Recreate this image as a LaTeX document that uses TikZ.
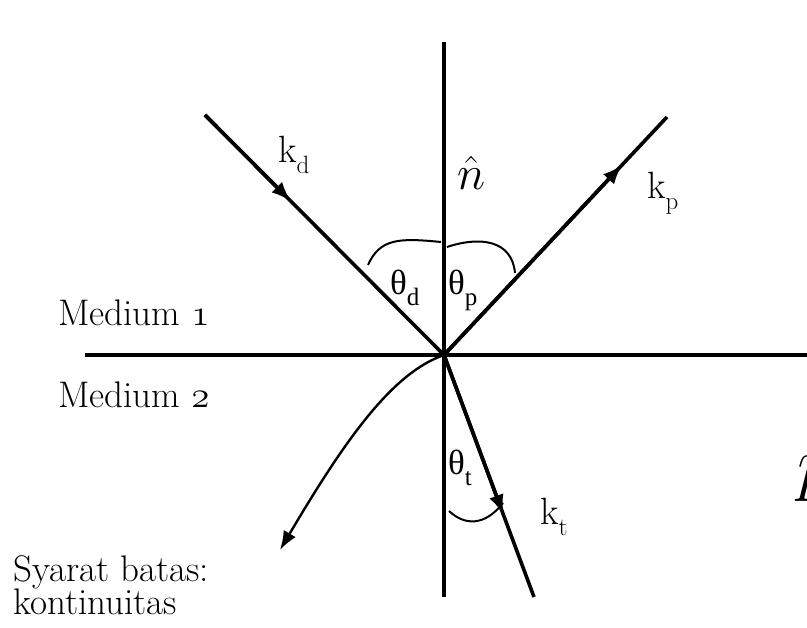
\RequirePackage{fix-cm}
\documentclass[tikz,border=0pt]{standalone}
\usepackage{fontspec}
\newfontfamily\grk{Liberation Serif}
\usetikzlibrary{arrows.meta,calc}
\newcommand\osnum[1]{{\usefont{OML}{cmm}{m}{it}#1}}
\newcommand\subl[2]{#1\raisebox{-11pt}{\fontsize{25}{25}\selectfont #2}}
\begin{document}
\begin{tikzpicture}[x=1pt,y=-1pt,
  txt/.style={inner sep=0pt,anchor=base west,font=\fontsize{37}{37}\selectfont},
  klbl/.style={inner sep=0pt,anchor=base west,font=\fontsize{38}{38}\selectfont},
  tlbl/.style={inner sep=0pt,anchor=base west,font=\fontsize{35}{35}\selectfont\grk},
  ray/.style={line width=3.6pt},
  tipray/.style={line width=3.6pt,-{Latex[length=20pt,width=15pt]}},
  arcline/.style={line width=2pt}
]
\useasboundingbox (0,0) rectangle (807,628);
% points
\coordinate (O) at (444,355);
\coordinate (Din) at (205,115);
\coordinate (Pout) at (667,117);
\coordinate (Tout) at (534,597);
\coordinate (Ntop) at (444,42);
\coordinate (Nbot) at (444,597);
\coordinate (Ileft) at (85,355);
\coordinate (Iright) at (807,355);
\coordinate (Cend) at (280,550);
% normal and interface
\draw[ray] (Ntop) -- (Nbot);
\draw[line width=4.5pt] (Ileft) -- (Iright);
% incident
\draw[ray] (Din) -- (O);
\draw[tipray] (Din) -- ($(Din)!0.36!(O)$);
% reflected
\draw[ray] (O) -- (Pout);
\draw[tipray] (O) -- ($(O)!0.80!(Pout)$);
% transmitted
\draw[ray] (O) -- (Tout);
\draw[tipray] (O) -- ($(O)!0.66!(Tout)$);
% boundary condition curve
\draw[line width=2.4pt,-{Latex[length=19pt,width=14pt]}] (O) .. controls (392,373) and (345,440) .. (Cend);
% angle arcs
\draw[arcline] (368,265) .. controls (380,238) and (400,238) .. (441,242);
\draw[arcline] (447,247) .. controls (480,236) and (512,240) .. (515,273);
\draw[arcline] (449,511) .. controls (465,526) and (485,526) .. (503,503);
% labels
\node[klbl] (kd) at (278,163) {\subl{k}{d}};
\node[klbl] (kp) at (647,199) {\subl{k}{p}};
\node[klbl] (kt) at (540,525) {\subl{k}{t}};
\node[tlbl] (thd) at (390,295) {\subl{θ}{d}};
\node[tlbl] (thp) at (448,295) {\subl{θ}{p}};
\node[tlbl] (tht) at (448,475) {\subl{θ}{t}};
\node[inner sep=0pt,anchor=base west,font=\fontsize{48}{48}\selectfont] (nhat) at (457,190) {$\hat{n}$};
\node[inner sep=0pt,anchor=base west,font=\fontsize{72}{72}\selectfont] (phat) at (797,488) {$\hat{p}$};
\node[txt] (m1) at (58,326) {Medium \osnum{1}};
\node[txt] (m2) at (58,408) {Medium \osnum{2}};
\node[txt] (sy) at (13,581) {Syarat batas:};
\node[txt] (ko) at (13,615) {kontinuitas};
\end{tikzpicture}
\end{document}
